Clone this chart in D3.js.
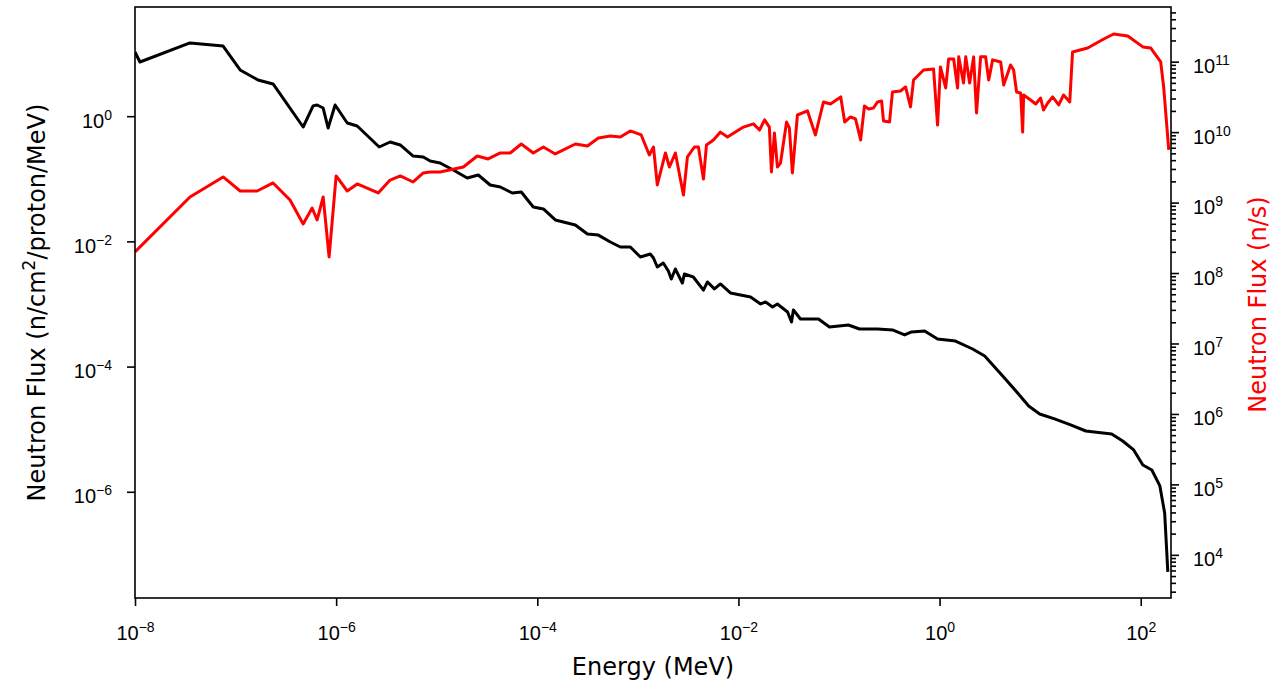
<!DOCTYPE html>
<html>
<head>
<meta charset="utf-8">
<script src="https://cdn.jsdelivr.net/npm/d3@7"></script>
<style>
  body { margin: 0; background: #fff; }
  svg { display: block; font-family: "DejaVu Sans", sans-serif; }
</style>
</head>
<body>
<svg></svg>
<script>
let width = 1281;
let height = 683;

// black curve: flux per proton (left axis)
let blackEnergy = [1.0e-8, 1.12e-8, 3.52e-8, 7.52e-8, 1.11e-7, 1.67e-7, 2.36e-7, 4.70e-7, 5.90e-7, 6.47e-7,
  7.43e-7, 8.32e-7, 9.77e-7, 1.29e-6, 1.62e-6, 2.68e-6, 3.44e-6, 4.34e-6, 5.83e-6, 7.35e-6,
  8.61e-6, 1.08e-5, 1.46e-5, 2.01e-5, 2.59e-5, 3.40e-5, 4.29e-5, 5.64e-5, 6.93e-5, 9.12e-5,
  1.15e-4, 1.51e-4, 2.39e-4, 3.15e-4, 4.05e-4, 5.32e-4, 6.70e-4, 8.41e-4, 1.06e-3, 1.33e-3,
  1.43e-3, 1.56e-3, 1.79e-3, 2.01e-3, 2.15e-3, 2.36e-3, 2.77e-3, 2.90e-3, 3.56e-3, 4.49e-3,
  4.92e-3, 5.77e-3, 6.62e-3, 8.32e-3, 1.32e-2, 1.66e-2, 1.86e-2, 2.18e-2, 2.44e-2, 3.08e-2,
  3.37e-2, 3.52e-2, 4.14e-2, 6.25e-2, 8.04e-2, 0.124, 0.160, 0.242, 0.340, 0.449,
  0.526, 0.710, 0.955, 1.44, 2.13, 2.81, 4.24, 5.97, 7.69, 9.89,
  13.9, 20.1, 28.4, 51.4, 66.2, 85.1, 105, 129, 155, 173, 186];
let blackFlux = [10.6, 7.34, 14.8, 13.2, 5.47, 3.79, 3.27, 0.672, 1.46, 1.51,
  1.35, 0.648, 1.51, 0.778, 0.697, 0.322, 0.387, 0.347, 0.231, 0.223,
  0.192, 0.179, 0.138, 0.103, 0.115, 0.0796, 0.0740, 0.0593, 0.0615, 0.0355,
  0.0330, 0.0220, 0.0183, 0.0131, 0.0126, 0.00977, 0.00814, 0.00814, 0.00564, 0.00629,
  0.00543, 0.00390, 0.00452, 0.00337, 0.00251, 0.00362, 0.00216, 0.00301, 0.00270, 0.00167,
  0.00225, 0.00174, 0.00209, 0.00150, 0.00129, 0.00100, 0.00108, 0.000895, 0.00100, 0.000745,
  0.000515, 0.000802, 0.000575, 0.000575, 0.000430, 0.000462, 0.000399, 0.000399, 0.000385, 0.000320,
  0.000357, 0.000371, 0.000276, 0.000256, 0.000191, 0.000148, 7.08e-5, 3.79e-5, 2.35e-5, 1.75e-5,
  1.46e-5, 1.17e-5, 9.35e-6, 8.38e-6, 6.48e-6, 4.66e-6, 2.68e-6, 2.23e-6, 1.24e-6, 4.58e-7, 5.24e-8];

// red curve: flux in n/s (right axis)
let redEnergy = [1.0e-8, 3.52e-8, 7.52e-8, 1.11e-7, 1.64e-7, 2.36e-7, 3.48e-7, 4.70e-7, 5.77e-7, 6.47e-7,
  7.43e-7, 8.51e-7, 1.00e-6, 1.29e-6, 1.62e-6, 2.62e-6, 3.44e-6, 4.34e-6, 5.83e-6, 7.35e-6,
  8.61e-6, 1.08e-5, 1.84e-5, 2.53e-5, 3.25e-5, 4.29e-5, 5.38e-5, 6.93e-5, 9.12e-5, 1.15e-4,
  1.51e-4, 2.39e-4, 3.15e-4, 4.05e-4, 5.32e-4, 6.70e-4, 8.41e-4, 1.08e-3, 1.30e-3, 1.43e-3,
  1.56e-3, 1.88e-3, 2.06e-3, 2.36e-3, 2.84e-3, 3.11e-3, 3.65e-3, 4.00e-3, 4.49e-3, 4.81e-3,
  5.64e-3, 6.62e-3, 7.78e-3, 1.12e-2, 1.41e-2, 1.62e-2, 1.82e-2, 2.03e-2, 2.13e-2, 2.28e-2,
  2.44e-2, 2.62e-2, 3.01e-2, 3.21e-2, 3.44e-2, 3.86e-2, 4.86e-2, 5.83e-2, 7.01e-2, 8.22e-2,
  0.104, 0.114, 0.130, 0.146, 0.164, 0.179, 0.197, 0.220, 0.242, 0.265,
  0.277, 0.318, 0.340, 0.409, 0.459, 0.514, 0.551, 0.693, 0.871, 0.955,
  1.02, 1.15, 1.23, 1.38, 1.51, 1.55, 1.73, 1.82, 1.99, 2.18,
  2.33, 2.56, 2.87, 3.08, 3.37, 4.05, 4.34, 5.08, 5.45, 5.83,
  6.40, 6.70, 6.85, 8.04, 9.02, 10.1, 10.8, 11.9, 13.3, 15.3,
  17.1, 19.7, 21.0, 29.7, 42.9, 53.8, 74.3, 105, 126, 158, 169, 190];
let redFlux = [1.99e8, 1.20e9, 2.31e9, 1.46e9, 1.46e9, 1.90e9, 1.09e9, 4.97e8, 8.38e8, 5.66e8,
  1.20e9, 1.69e8, 2.39e9, 1.46e9, 1.84e9, 1.37e9, 2.09e9, 2.39e9, 1.96e9, 2.63e9,
  2.72e9, 2.72e9, 3.20e9, 4.58e9, 4.16e9, 5.06e9, 5.06e9, 6.79e9, 5.06e9, 6.15e9,
  4.90e9, 6.79e9, 6.35e9, 8.26e9, 8.81e9, 8.53e9, 1.04e10, 9.12e9, 4.74e9, 6.15e9,
  1.78e9, 5.06e9, 3.20e9, 5.06e9, 1.28e9, 4.44e9, 6.15e9, 6.15e9, 2.16e9, 6.58e9,
  7.74e9, 1.00e10, 8.53e9, 1.18e10, 1.31e10, 1.07e10, 1.49e10, 1.18e10, 2.72e9, 9.72e9,
  3.20e9, 3.65e9, 1.39e10, 1.15e10, 2.63e9, 1.75e10, 2.00e10, 9.12e9, 2.68e10, 2.51e10,
  3.16e10, 1.39e10, 1.64e10, 1.54e10, 7.74e9, 2.35e10, 2.13e10, 2.20e10, 2.68e10, 2.77e10,
  1.44e10, 1.39e10, 3.72e10, 3.84e10, 4.38e10, 2.28e10, 5.50e10, 7.62e10, 7.87e10, 1.26e10,
  8.41e10, 4.24e10, 1.09e11, 1.09e11, 4.24e10, 1.17e11, 4.99e10, 1.17e11, 4.99e10, 1.17e11,
  1.87e10, 1.17e11, 1.17e11, 5.50e10, 1.06e11, 9.90e10, 4.67e10, 8.98e10, 7.62e10, 3.72e10,
  3.60e10, 1.00e10, 3.37e10, 2.86e10, 2.51e10, 3.05e10, 2.06e10, 2.59e10, 3.16e10, 2.43e10,
  3.37e10, 2.68e10, 1.37e11, 1.56e11, 2.10e11, 2.47e11, 2.32e11, 1.62e11, 1.56e11, 9.90e10, 4.38e10, 5.58e9];

// tick exponents
let xTickExp = [-8, -6, -4, -2, 0, 2];
let leftTickExp = [-6, -4, -2, 0];
let rightTickExp = [4, 5, 6, 7, 8, 9, 10, 11];

let margin = {left: 135, right: 110, top: 7, bottom: 85};
let plotW = width - margin.left - margin.right;
let plotH = height - margin.top - margin.bottom;

let x = d3.scaleLog().domain([1e-8, 200]).range([0, plotW]);
let yLeft = d3.scaleLog().domain([2.01e-8, 55.5]).range([plotH, 0]);
let yRight = d3.scaleLog().domain([2.44e3, 5.97e11]).range([plotH, 0]);

let svg = d3.select('svg')
  .attr('width', width)
  .attr('height', height);

svg.append('rect')
  .attr('width', width)
  .attr('height', height)
  .attr('fill', '#fff');

let g = svg.append('g')
  .attr('transform', `translate(${margin.left}, ${margin.top})`);

g.append('clipPath')
  .attr('id', 'plot-clip')
  .append('rect')
    .attr('width', plotW)
    .attr('height', plotH);

function minusExp(e) {
  return e < 0 ? '\u2212' + Math.abs(e) : String(e);
}

// writes 10^e labels with a raised exponent
function powerLabels(sel, opts) {
  sel.selectAll('.tick text').remove();
  sel.selectAll('.tick')
    .append('text')
      .attr('fill', '#000')
      .attr('font-size', 20)
      .attr('text-anchor', opts.anchor)
      .attr('x', opts.x)
      .attr('y', opts.y)
      .each(function(d) {
        let e = Math.round(Math.log10(d));
        let t = d3.select(this);
        t.append('tspan').text('10');
        t.append('tspan')
          .attr('font-size', 14)
          .attr('dy', -8)
          .text(minusExp(e));
      });
}

function styleTicks(sel) {
  sel.select('.domain').remove();
  sel.selectAll('.tick line')
    .attr('stroke', '#000')
    .attr('stroke-width', 1.6);
}

// bottom axis
let xAxisG = g.append('g')
  .attr('transform', `translate(0, ${plotH})`)
  .call(d3.axisBottom(x)
    .tickValues(xTickExp.map(e => Math.pow(10, e)))
    .tickSize(8)
    .tickFormat(''));
styleTicks(xAxisG);
powerLabels(xAxisG, {anchor: 'middle', x: 0, y: 42});

// left axis
let yLeftG = g.append('g')
  .call(d3.axisLeft(yLeft)
    .tickValues(leftTickExp.map(e => Math.pow(10, e)))
    .tickSize(8)
    .tickFormat(''));
styleTicks(yLeftG);
powerLabels(yLeftG, {anchor: 'end', x: -23, y: 11});

// right axis, majors + minors
let rightMinor = [];
d3.range(3, 12).forEach(k => {
  d3.range(2, 10).forEach(m => {
    let v = m * Math.pow(10, k);
    if (v > yRight.domain()[0] && v < yRight.domain()[1]) rightMinor.push(v);
  });
});

let yRightMinorG = g.append('g')
  .attr('transform', `translate(${plotW}, 0)`)
  .call(d3.axisRight(yRight)
    .tickValues(rightMinor)
    .tickSize(5)
    .tickFormat(''));
styleTicks(yRightMinorG);
yRightMinorG.selectAll('.tick text').remove();

let yRightG = g.append('g')
  .attr('transform', `translate(${plotW}, 0)`)
  .call(d3.axisRight(yRight)
    .tickValues(rightTickExp.map(e => Math.pow(10, e)))
    .tickSize(8)
    .tickFormat(''));
styleTicks(yRightG);
powerLabels(yRightG, {anchor: 'start', x: 22, y: 11});

// curves
let blackLine = d3.line()
  .x(d => x(d[0]))
  .y(d => yLeft(d[1]));

let redLine = d3.line()
  .x(d => x(d[0]))
  .y(d => yRight(d[1]));

g.append('path')
  .datum(d3.zip(blackEnergy, blackFlux))
  .attr('clip-path', 'url(#plot-clip)')
  .attr('fill', 'none')
  .attr('stroke', '#000')
  .attr('stroke-width', 3)
  .attr('stroke-linejoin', 'round')
  .attr('d', blackLine);

g.append('path')
  .datum(d3.zip(redEnergy, redFlux))
  .attr('clip-path', 'url(#plot-clip)')
  .attr('fill', 'none')
  .attr('stroke', '#ff0000')
  .attr('stroke-width', 3)
  .attr('stroke-linejoin', 'round')
  .attr('d', redLine);

// frame
g.append('rect')
  .attr('width', plotW)
  .attr('height', plotH)
  .attr('fill', 'none')
  .attr('stroke', '#000')
  .attr('stroke-width', 1.6);

// axis titles
svg.append('text')
  .attr('x', margin.left + plotW / 2)
  .attr('y', 675)
  .attr('text-anchor', 'middle')
  .attr('font-size', 24)
  .text('Energy (MeV)');

let leftTitle = svg.append('text')
  .attr('transform', `translate(45, ${margin.top + plotH / 2}) rotate(-90)`)
  .attr('text-anchor', 'middle')
  .attr('font-size', 24);
leftTitle.append('tspan').text('Neutron Flux (n/cm');
leftTitle.append('tspan').attr('font-size', 17).attr('dy', -10).text('2');
leftTitle.append('tspan').attr('dy', 10).text('/proton/MeV)');

svg.append('text')
  .attr('transform', `translate(1266, ${margin.top + plotH / 2 + 2}) rotate(-90)`)
  .attr('text-anchor', 'middle')
  .attr('font-size', 24)
  .attr('fill', '#ff0000')
  .text('Neutron Flux (n/s)');
</script>
</body>
</html>
